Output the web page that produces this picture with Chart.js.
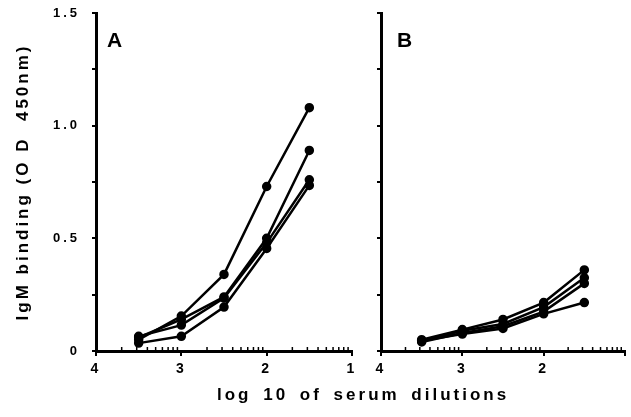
<!DOCTYPE html>
<html>
<head>
<meta charset="utf-8">
<script src="https://cdn.jsdelivr.net/npm/chart.js@4.4.1/dist/chart.umd.min.js"></script>
<style>
  body { margin: 0; background: #fff; }
  #wrap { position: relative; width: 631px; height: 417px; font-family: "Liberation Sans", Arial, sans-serif; }
  .box { position: absolute; top: 0; height: 417px; }
  .lbl { position: absolute; font-weight: bold; font-size: 21px; color: #000; }
  #xtitle { position: absolute; left: 217px; top: 385px; font-weight: bold; font-size: 17px;
            letter-spacing: 3px; word-spacing: 4px; white-space: nowrap; color: #000; }
</style>
</head>
<body>
<div id="wrap">
  <div class="box" style="left:0;width:365px"><canvas id="chartA"></canvas></div>
  <div class="box" style="left:365px;width:266px"><canvas id="chartB"></canvas></div>
  <div class="lbl" style="left:107px;top:28px">A</div>
  <div class="lbl" style="left:397px;top:28px">B</div>
  <div id="xtitle">log 10 of serum dilutions</div>
</div>
<script>
// log10 of serum dilution
const dilutions = [3.5, 3, 2.5, 2, 1.5];

// Panel A - IgM binding (OD 450nm)
const a1 = [0.05, 0.155, 0.34, 0.73, 1.08];
const a2 = [0.06, 0.14, 0.24, 0.50, 0.89];
const a3 = [0.065, 0.115, 0.235, 0.48, 0.76];
const a4 = [0.035, 0.065, 0.195, 0.455, 0.735];

// Panel B
const b1 = [0.05, 0.095, 0.14, 0.215, 0.36];
const b2 = [0.045, 0.09, 0.12, 0.195, 0.325];
const b3 = [0.04, 0.08, 0.11, 0.175, 0.30];
const b4 = [0.045, 0.075, 0.10, 0.165, 0.215];

const xTicks = [4, 3, 2, 1];
const yTicks = [0, 0.5, 1.0, 1.5];

const font = { family: '"Liberation Sans", Arial, sans-serif', weight: 'bold' };

function series(values) {
  return {
    data: values.map((v, i) => ({ x: dilutions[i], y: v })),
    borderColor: "#000",
    backgroundColor: "#000",
    borderWidth: 2.5,
    pointRadius: 3.5,
    pointHoverRadius: 3.5,
    tension: 0,
  };
}

// spaced lettering like the typeset original
const spacing = {
  id: "spacing",
  beforeDraw(chart) { chart.ctx.letterSpacing = "3px"; },
};

// small inward log ticks along the x axis
const minorTicks = {
  id: "minorTicks",
  afterDraw(chart) {
    const { ctx, scales: { x, y } } = chart;
    ctx.save();
    ctx.strokeStyle = "#000";
    ctx.lineWidth = 1.5;
    for (let n = 1; n < 4; n++) {
      for (let k = 2; k <= 9; k++) {
        const px = x.getPixelForValue(n + 1 - Math.log10(k));
        if (px > x.right + 1) continue;
        ctx.beginPath();
        ctx.moveTo(px, y.bottom);
        ctx.lineTo(px, y.bottom - 4);
        ctx.stroke();
      }
    }
    ctx.restore();
  },
};

function makeChart(id, sets, opts) {
  return new Chart(document.getElementById(id), {
    type: "line",
    data: { datasets: sets.map(series) },
    plugins: [spacing, minorTicks],
    options: {
      responsive: true,
      maintainAspectRatio: false,
      animation: false,
      layout: { padding: { top: 13, right: opts.padRight, left: 0, bottom: 0 } },
      plugins: { legend: { display: false }, tooltip: { enabled: false } },
      scales: {
        x: {
          type: "linear",
          min: 1,
          max: 4,
          reverse: true,
          afterBuildTicks: (s) => { s.ticks = xTicks.map((v) => ({ value: v })); },
          afterFit: (s) => { s.height = 66; },
          border: { color: "#000", width: 3 },
          grid: { drawOnChartArea: false, color: "#000", tickLength: 5, lineWidth: 2 },
          ticks: {
            color: "#000",
            font: { ...font, size: 14 },
            padding: 5,
            maxRotation: 0,
            autoSkip: false,
            callback: (v) => (opts.hideLast && v === 1 ? "" : String(v)),
          },
        },
        y: {
          min: 0,
          max: 1.5,
          afterBuildTicks: (s) => {
            const t = [];
            for (let v = 0; v <= 1.5001; v += 0.25) t.push({ value: Math.round(v * 100) / 100 });
            s.ticks = t;
          },
          afterFit: (s) => {
            s.width = opts.yWidth;
            s.paddingTop = 0;
            s.paddingBottom = 0;
          },
          border: { color: "#000", width: 3 },
          grid: { drawOnChartArea: false, color: "#000", tickLength: 4, lineWidth: 2 },
          ticks: {
            display: opts.yLabels,
            color: "#000",
            font: { ...font, size: 13 },
            padding: 12,
            callback: (v) => (yTicks.includes(v) ? (v === 0 ? "0" : v.toFixed(1)) : ""),
          },
          title: {
            display: opts.yLabels,
            text: "IgM binding (O D  450nm)",
            color: "#000",
            font: { ...font, size: 17 },
            padding: { top: 13, bottom: 0 },
          },
        },
      },
    },
  });
}

makeChart("chartA", [a1, a2, a3, a4], { padRight: 13, yWidth: 96, yLabels: true, hideLast: false });
makeChart("chartB", [b1, b2, b3, b4], { padRight: 0, yWidth: 16, yLabels: false, hideLast: true });
</script>
</body>
</html>
